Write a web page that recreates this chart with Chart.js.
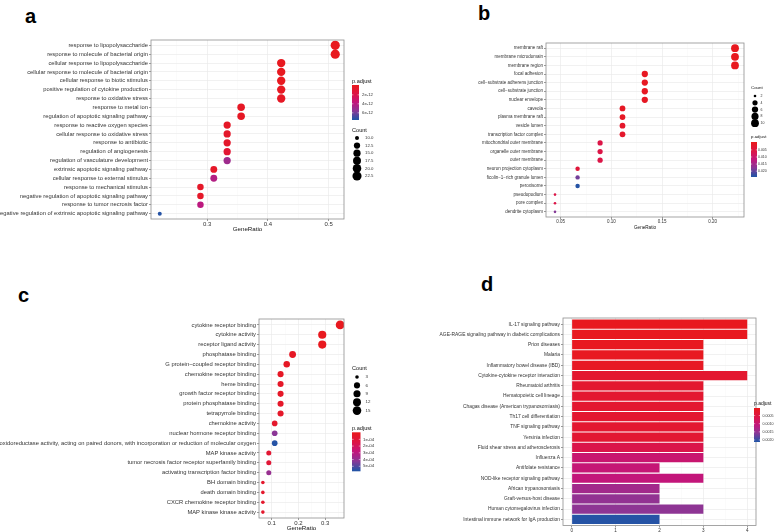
<!DOCTYPE html>
<html>
<head>
<meta charset="utf-8">
<script src="https://cdn.jsdelivr.net/npm/chart.js@4.4.0/dist/chart.umd.min.js"></script>
<style>
    html, body { margin: 0; padding: 0; background: #fff; }
    body { width: 784px; height: 532px; position: relative; overflow: hidden; font-family: "Liberation Sans", Arial, sans-serif; }
    canvas { position: absolute; }
    .tag { position: absolute; font-weight: bold; font-size: 20px; line-height: 20px; color: #000; }
</style>
</head>
<body>
<div class="tag" style="left:25px;top:6px">a</div>
<div class="tag" style="left:478px;top:3px">b</div>
<div class="tag" style="left:18px;top:285px">c</div>
<div class="tag" style="left:481px;top:274px">d</div>

<canvas id="chartA" width="392" height="266" style="left:0;top:0"></canvas>
<canvas id="chartB" width="392" height="266" style="left:392px;top:0"></canvas>
<canvas id="chartC" width="392" height="266" style="left:0;top:266px"></canvas>
<canvas id="chartD" width="392" height="266" style="left:392px;top:266px"></canvas>

<script>
// ---- panel a : GO biological process ----
const termsA = [
    'response to lipopolysaccharide', 'response to molecule of bacterial origin',
    'cellular response to lipopolysaccharide', 'cellular response to molecule of bacterial origin',
    'cellular response to biotic stimulus', 'positive regulation of cytokine production',
    'response to oxidative stress', 'response to metal ion',
    'regulation of apoptotic signaling pathway', 'response to reactive oxygen species',
    'cellular response to oxidative stress', 'response to antibiotic',
    'regulation of angiogenesis', 'regulation of vasculature development',
    'extrinsic apoptotic signaling pathway', 'cellular response to external stimulus',
    'response to mechanical stimulus', 'negative regulation of apoptotic signaling pathway',
    'response to tumor necrosis factor', 'negative regulation of extrinsic apoptotic signaling pathway'
];
const ratioA = [0.511, 0.511, 0.422, 0.422, 0.422, 0.422, 0.422, 0.356, 0.356, 0.333,
                0.333, 0.333, 0.333, 0.333, 0.311, 0.311, 0.289, 0.289, 0.289, 0.222];
const countA = [23, 23, 19, 19, 19, 19, 19, 16, 16, 15, 15, 15, 15, 15, 14, 14, 13, 13, 13, 10];
const padjA = [1e-14, 1e-14, 5e-14, 5e-14, 6e-14, 2e-13, 3e-13, 3e-13, 3e-13, 4e-13,
               6e-13, 6e-13, 1e-12, 4.9e-12, 5e-13, 4.2e-12, 5e-13, 5e-13, 3.9e-12, 7.4e-12];
const ratioTicksA = [0.3, 0.4, 0.5];
const padjBreaksA = [2e-12, 4e-12, 6e-12];
const countBreaksA = [10, 12.5, 15, 17.5, 20, 22.5];

// ---- panel b : GO cellular component ----
const termsB = [
    'membrane raft', 'membrane microdomain', 'membrane region', 'focal adhesion',
    'cell\u2212substrate adherens junction', 'cell\u2212substrate junction', 'nuclear envelope',
    'caveola', 'plasma membrane raft', 'vesicle lumen', 'transcription factor complex',
    'mitochondrial outer membrane', 'organelle outer membrane', 'outer membrane',
    'neuron projection cytoplasm', 'ficolin\u22121\u2212rich granule lumen', 'peroxisome',
    'pseudopodium', 'pore complex', 'dendrite cytoplasm'
];
const ratioB = [0.222, 0.222, 0.222, 0.133, 0.133, 0.133, 0.133, 0.111, 0.111, 0.111,
                0.111, 0.0889, 0.0889, 0.0889, 0.0667, 0.0667, 0.0667, 0.0444, 0.0444, 0.0444];
const countB = [10, 10, 10, 6, 6, 6, 6, 5, 5, 5, 5, 4, 4, 4, 3, 3, 3, 2, 2, 2];
const padjB = [0.00005, 0.00005, 0.00006, 0.0006, 0.0006, 0.0006, 0.0008, 0.001, 0.001, 0.002,
               0.002, 0.006, 0.006, 0.006, 0.004, 0.019, 0.0235, 0.006, 0.006, 0.018];
const ratioTicksB = [0.05, 0.10, 0.15, 0.20];
const padjBreaksB = [0.005, 0.010, 0.015, 0.020];
const countBreaksB = [2, 4, 6, 8, 10];

// ---- panel c : GO molecular function ----
const termsC = [
    'cytokine receptor binding', 'cytokine activity', 'receptor ligand activity',
    'phosphatase binding', 'G protein\u2212coupled receptor binding', 'chemokine receptor binding',
    'heme binding', 'growth factor receptor binding', 'protein phosphatase binding',
    'tetrapyrrole binding', 'chemokine activity', 'nuclear hormone receptor binding',
    'oxidoreductase activity, acting on paired donors, with incorporation or reduction of molecular oxygen',
    'MAP kinase activity', 'tumor necrosis factor receptor superfamily binding',
    'activating transcription factor binding', 'BH domain binding', 'death domain binding',
    'CXCR chemokine receptor binding', 'MAP kinase kinase activity'
];
const ratioC = [0.356, 0.289, 0.289, 0.178, 0.156, 0.133, 0.133, 0.133, 0.133, 0.133,
                0.111, 0.111, 0.111, 0.0889, 0.0889, 0.0889, 0.0667, 0.0667, 0.0667, 0.0667];
const countC = [16, 13, 13, 8, 7, 6, 6, 6, 6, 6, 5, 5, 5, 4, 4, 4, 3, 3, 3, 3];
const padjC = [0.1e-4, 0.1e-4, 0.1e-4, 0.3e-4, 0.3e-4, 0.3e-4, 0.4e-4, 0.4e-4, 0.5e-4, 0.5e-4,
               0.6e-4, 4.2e-4, 5.6e-4, 0.8e-4, 0.9e-4, 3.9e-4, 0.6e-4, 0.6e-4, 0.6e-4, 0.6e-4];
const ratioTicksC = [0.1, 0.2, 0.3];
const padjBreaksC = [1e-4, 2e-4, 3e-4, 4e-4, 5e-4];
const countBreaksC = [3, 6, 9, 12, 15];

// ---- panel d : KEGG barplot ----
const pathwaysD = [
    'IL-17 signaling pathway', 'AGE-RAGE signaling pathway in diabetic complications',
    'Prion diseases', 'Malaria', 'Inflammatory bowel disease (IBD)',
    'Cytokine-cytokine receptor interaction', 'Rheumatoid arthritis', 'Hematopoietic cell lineage',
    'Chagas disease (American trypanosomiasis)', 'Th17 cell differentiation', 'TNF signaling pathway',
    'Yersinia infection', 'Fluid shear stress and atherosclerosis', 'Influenza A',
    'Antifolate resistance', 'NOD-like receptor signaling pathway', 'African trypanosomiasis',
    'Graft-versus-host disease', 'Human cytomegalovirus infection',
    'Intestinal immune network for IgA production'
];
const countD = [4, 4, 3, 3, 3, 4, 3, 3, 3, 3, 3, 3, 3, 3, 2, 3, 2, 2, 3, 2];
const padjD = [0.00009, 0.00009, 0.00011, 0.00011, 0.00015, 0.00029, 0.00029, 0.00031, 0.00031, 0.00031,
               0.00031, 0.00033, 0.00062, 0.00096, 0.00102, 0.00106, 0.00136, 0.00150, 0.00154, 0.00207];
const countTicksD = [0, 1, 2, 3, 4];
const padjBreaksD = [0.0005, 0.0010, 0.0015, 0.0020];

const FONT = '"Liberation Sans", Arial, Helvetica, sans-serif';
const INK = '#333333';
const GRID = '#ebebeb';
const GRID_MINOR = '#f4f4f4';
const FRAME = '#8f8f8f';
// low p.adjust (red) -> high p.adjust (blue)
const GRAD = ['#e8191f', '#dc1546', '#c2167c', '#8a3796', '#2553a5'];

function hexRgb(h) {
    const n = parseInt(h.slice(1), 16);
    return [n >> 16, (n >> 8) & 255, n & 255];
}

function padjColor(p, lo, hi) {
    const t = Math.max(0, Math.min(1, (p - lo) / (hi - lo)));
    const seg = t * (GRAD.length - 1);
    const i = Math.min(GRAD.length - 2, Math.floor(seg));
    const f = seg - i;
    const a = hexRgb(GRAD[i]), b = hexRgb(GRAD[i + 1]);
    return 'rgb(' + a.map((v, k) => Math.round(v + (b[k] - v) * f)).join(',') + ')';
}

function sizeScale(lo, hi, rMin, rMax) {
    return n => rMin + Math.sqrt((n - lo) / (hi - lo)) * (rMax - rMin);
}

function expo(v) {
    const parts = v.toExponential(0).split('e');
    const e = parseInt(parts[1], 10);
    return parts[0] + 'e' + (e < 0 ? '-' : '+') + String(Math.abs(e)).padStart(2, '0');
}

function xScaleOpts(min, max, majors, fmt, o) {
    const step = majors[1] - majors[0];
    const ticks = [];
    for (let v = majors[0] - step / 2; v <= max + 1e-9; v += step / 2) {
        if (v >= min - 1e-9) ticks.push(+v.toFixed(6));
    }
    const isMajor = v => majors.some(m => Math.abs(m - v) < 1e-9);
    return {
        type: 'linear', min: min, max: max, bounds: 'data', offset: false,
        afterBuildTicks: s => { s.ticks = ticks.map(v => ({ value: v })); },
        afterFit: s => { s.height = o.xh; },
        ticks: {
            autoSkip: false, maxRotation: 0, padding: 0, color: INK,
            font: { family: FONT, size: o.tickSize },
            callback: v => isMajor(v) ? fmt(v) : ''
        },
        grid: {
            offset: false,
            color: c => (c.tick && isMajor(c.tick.value)) ? GRID : GRID_MINOR,
            lineWidth: c => (c.tick && isMajor(c.tick.value)) ? 0.7 : 0.4,
            tickLength: 2, tickWidth: 0.6,
            tickColor: c => (c.tick && isMajor(c.tick.value)) ? '#555' : 'rgba(0,0,0,0)'
        },
        border: { display: false },
        title: o.xTitle
            ? { display: true, text: o.xTitle, color: '#111', padding: 0, font: { family: FONT, size: o.titleSize } }
            : { display: false }
    };
}

function yScaleOpts(labels, o) {
    return {
        type: 'linear', reverse: true, min: -0.6, max: labels.length - 0.4, bounds: 'data', offset: false,
        afterBuildTicks: s => { s.ticks = labels.map((_, i) => ({ value: i })); },
        afterFit: s => { s.width = o.left; },
        ticks: {
            autoSkip: false, padding: 1, color: INK,
            font: { family: FONT, size: o.labelSize },
            callback: v => labels[v]
        },
        grid: { offset: false, color: GRID, lineWidth: 0.7, tickLength: 2, tickWidth: 0.6, tickColor: '#555' },
        border: { display: false }
    };
}

function drawColorbar(ctx, L, lo, hi, breaks, fmt) {
    ctx.textAlign = 'left';
    ctx.textBaseline = 'middle';
    ctx.fillStyle = '#111';
    ctx.font = L.titleSize + 'px ' + FONT;
    ctx.fillText('p.adjust', L.x, L.pTitle);
    const g = ctx.createLinearGradient(0, L.barTop, 0, L.barTop + L.barH);
    GRAD.forEach((c, i) => g.addColorStop(0.025 + 0.95 * i / (GRAD.length - 1), c));
    ctx.fillStyle = g;
    ctx.fillRect(L.x, L.barTop, L.barW, L.barH);
    ctx.font = L.labelSize + 'px ' + FONT;
    breaks.forEach(v => {
        const y = L.barTop + L.barH * (0.025 + 0.95 * (v - lo) / (hi - lo));
        ctx.strokeStyle = '#fff';
        ctx.lineWidth = 0.5;
        ctx.beginPath();
        ctx.moveTo(L.x, y); ctx.lineTo(L.x + L.barW * 0.2, y);
        ctx.moveTo(L.x + L.barW * 0.8, y); ctx.lineTo(L.x + L.barW, y);
        ctx.stroke();
        ctx.fillStyle = INK;
        ctx.fillText(fmt(v), L.pLabelX, y);
    });
}

function drawSizeLegend(ctx, L, breaks, rad, fmt) {
    ctx.textAlign = 'left';
    ctx.textBaseline = 'middle';
    ctx.fillStyle = '#111';
    ctx.font = L.titleSize + 'px ' + FONT;
    ctx.fillText('Count', L.x, L.cTitle);
    ctx.font = L.labelSize + 'px ' + FONT;
    breaks.forEach((v, i) => {
        const y = L.cFirst + i * L.cStep;
        ctx.fillStyle = '#000';
        ctx.beginPath();
        ctx.arc(L.dotX, y, rad(v), 0, Math.PI * 2);
        ctx.fill();
        ctx.fillStyle = INK;
        ctx.fillText(fmt(v), L.cLabelX, y);
    });
}

function decor(draw) {
    return {
        id: 'decor',
        afterDraw(chart) {
            const { ctx, chartArea: a } = chart;
            ctx.save();
            ctx.strokeStyle = FRAME;
            ctx.lineWidth = 0.8;
            ctx.strokeRect(a.left, a.top, a.right - a.left, a.bottom - a.top);
            draw(ctx);
            ctx.restore();
        }
    };
}

function dotPlot(id, terms, ratio, count, padj, o) {
    const el = document.getElementById(id);
    const W = el.width, H = el.height;
    const lo = Math.min(...padj), hi = Math.max(...padj);
    const rad = sizeScale(Math.min(...count), Math.max(...count), o.rMin, o.rMax);
    const rLo = Math.min(...ratio), rHi = Math.max(...ratio);
    const span = rHi - rLo;
    const xMin = rLo - span * 0.05, xMax = rHi + span * 0.05;

    return new Chart(el, {
        type: 'bubble',
        data: {
            datasets: [{
                data: terms.map((t, i) => ({ x: ratio[i], y: i, r: rad(count[i]) })),
                backgroundColor: padj.map(p => padjColor(p, lo, hi)),
                borderWidth: 0,
                hoverBorderWidth: 0,
                hoverRadius: 0
            }]
        },
        options: {
            responsive: false,
            animation: false,
            events: [],
            layout: { padding: { left: 0, top: o.top, right: W - o.right, bottom: H - o.bottom - o.xh } },
            plugins: { legend: { display: false }, tooltip: { enabled: false } },
            scales: {
                x: xScaleOpts(xMin, xMax, o.ticks, o.fmtX, o),
                y: yScaleOpts(terms, o)
            }
        },
        plugins: [decor(ctx => {
            if (o.legend.pFirst) {
                drawColorbar(ctx, o.legend, lo, hi, o.padjBreaks, o.fmtP);
                drawSizeLegend(ctx, o.legend, o.countBreaks, rad, o.fmtC);
            } else {
                drawSizeLegend(ctx, o.legend, o.countBreaks, rad, o.fmtC);
                drawColorbar(ctx, o.legend, lo, hi, o.padjBreaks, o.fmtP);
            }
        })]
    });
}

dotPlot('chartA', termsA, ratioA, countA, padjA, {
    left: 151, top: 40, right: 344, bottom: 219, xh: 14,
    labelSize: 5.8, tickSize: 6, titleSize: 6.2, xTitle: 'GeneRatio',
    rMin: 2, rMax: 4.6,
    ticks: ratioTicksA, fmtX: v => v.toFixed(1),
    padjBreaks: padjBreaksA, fmtP: expo,
    countBreaks: countBreaksA, fmtC: v => v.toFixed(1),
    legend: {
        pFirst: true, x: 352, titleSize: 5.6, labelSize: 4.3,
        pTitle: 81, barTop: 85, barH: 35, barW: 7, pLabelX: 362,
        cTitle: 130, cFirst: 138, cStep: 7.6, dotX: 357, cLabelX: 365
    }
});

dotPlot('chartB', termsB, ratioB, countB, padjB, {
    left: 154, top: 43, right: 352, bottom: 217, xh: 13,
    labelSize: 4.5, tickSize: 4.5, titleSize: 4.6, xTitle: 'GeneRatio',
    rMin: 1.3, rMax: 3.9,
    ticks: ratioTicksB, fmtX: v => v.toFixed(2),
    padjBreaks: padjBreaksB, fmtP: v => v.toFixed(3),
    countBreaks: countBreaksB, fmtC: v => String(v),
    legend: {
        pFirst: false, x: 359, titleSize: 4.4, labelSize: 3.5,
        pTitle: 137, barTop: 142, barH: 35, barW: 6, pLabelX: 366,
        cTitle: 88, cFirst: 96, cStep: 6.8, dotX: 363, cLabelX: 368.5
    }
});

dotPlot('chartC', termsC, ratioC, countC, padjC, {
    left: 259, top: 53, right: 344, bottom: 252, xh: 14,
    labelSize: 5.8, tickSize: 6, titleSize: 6.2, xTitle: 'GeneRatio',
    rMin: 1.8, rMax: 4.4,
    ticks: ratioTicksC, fmtX: v => v.toFixed(1),
    padjBreaks: padjBreaksC, fmtP: expo,
    countBreaks: countBreaksC, fmtC: v => String(v),
    legend: {
        pFirst: false, x: 352, titleSize: 5.6, labelSize: 4.4,
        pTitle: 162.3, barTop: 166.3, barH: 39, barW: 8.5, pLabelX: 363,
        cTitle: 102.7, cFirst: 111, cStep: 8.4, dotX: 357, cLabelX: 365.5
    }
});

// ---- panel d bar chart ----
(function () {
    const el = document.getElementById('chartD');
    const W = el.width, H = el.height;
    const o = { left: 171, top: 52, right: 364, bottom: 259.5, xh: 6.5, labelSize: 4.9, tickSize: 4.6 };
    const lo = Math.min(...padjD), hi = Math.max(...padjD);
    const cMax = Math.max(...countD);
    const L = {
        x: 362, titleSize: 5, labelSize: 3.6,
        pTitle: 138, barTop: 142, barH: 34, barW: 6, pLabelX: 370.5
    };
    new Chart(el, {
        type: 'bar',
        data: {
            datasets: [{
                data: pathwaysD.map((t, i) => ({ x: countD[i], y: i })),
                backgroundColor: padjD.map(p => padjColor(p, lo, hi)),
                borderWidth: 0,
                barPercentage: 0.9,
                categoryPercentage: 1
            }]
        },
        options: {
            indexAxis: 'y',
            responsive: false,
            animation: false,
            events: [],
            layout: { padding: { left: 0, top: o.top, right: W - o.right, bottom: H - o.bottom - o.xh } },
            plugins: { legend: { display: false }, tooltip: { enabled: false } },
            scales: {
                x: xScaleOpts(-cMax * 0.05, cMax * 1.05, countTicksD, v => String(v), o),
                y: yScaleOpts(pathwaysD, o)
            }
        },
        plugins: [decor(ctx => drawColorbar(ctx, L, lo, hi, padjBreaksD, v => v.toFixed(4)))]
    });
})();
</script>
</body>
</html>
